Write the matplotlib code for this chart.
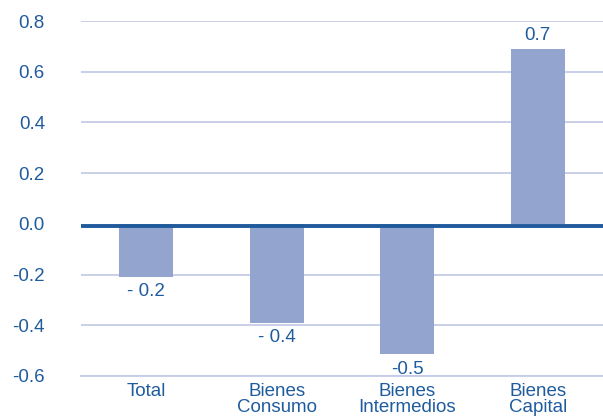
import matplotlib
matplotlib.use('Agg')
import matplotlib.pyplot as plt

# data
categories = ['Total', 'Bienes\nConsumo', 'Bienes\nIntermedios', 'Bienes\nCapital']
values = [-0.21, -0.39, -0.515, 0.69]
labels = ['- 0.2', '- 0.4', '-0.5', '0.7']
yticks = [-0.6, -0.4, -0.2, 0.0, 0.2, 0.4, 0.6, 0.8]

txt = '#1F5C9E'
fs = 13.5
plt.rcParams['font.family'] = ['Liberation Sans', 'DejaVu Sans']

fig = plt.figure(figsize=(6.03, 4.2), dpi=100)
ax = fig.add_axes([81 / 603, 44 / 420, 522 / 603, 355 / 420])

x = range(len(categories))
ax.bar(x, values, width=0.41, color='#93A5CF', zorder=2)

# grid
for y in yticks:
    if y != 0:
        ax.axhline(y, color='#C5CBE5', lw=1.3, zorder=1)
ax.axhline(-0.01, color='#1F5A9C', lw=2.8, zorder=3)

for i, (v, lab) in enumerate(zip(values, labels)):
    if v < 0:
        ax.text(i, v - 0.025, lab, ha='center', va='top', color=txt, fontsize=fs)
    else:
        ax.text(i, v + 0.02, lab, ha='center', va='bottom', color=txt, fontsize=fs)

ax.set_xlim(-0.5, 3.5)
ax.set_ylim(-0.6, 0.8)
ax.set_yticks(yticks)
ax.set_yticklabels(['%.1f' % t for t in yticks])
ax.set_xticks(list(x))
ax.set_xticklabels(categories, linespacing=0.9)
ax.tick_params(axis='both', length=0, colors=txt, labelsize=fs)
ax.tick_params(axis='y', pad=26)
ax.tick_params(axis='x', pad=5)
for s in ['top', 'right', 'left']:
    ax.spines[s].set_visible(False)
ax.spines['bottom'].set_color('#C5CBE5')
ax.spines['bottom'].set_linewidth(1.3)

fig.savefig('out.png', dpi=100)
